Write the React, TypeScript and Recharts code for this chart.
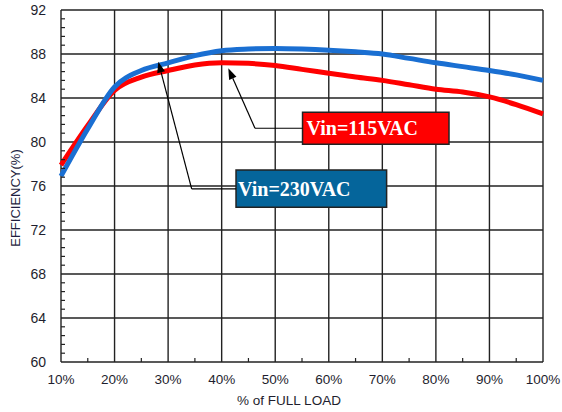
import React from 'react';
import { LineChart, Line, XAxis, YAxis, CartesianGrid, ReferenceArea, ReferenceLine } from 'recharts';

const loads = [10, 15, 20, 25, 30, 35, 40, 45, 50, 55, 60, 65, 70, 75, 80, 85, 90, 95, 100];
const eff230 = [76.9, 81.2, 85.0, 86.5, 87.2, 87.85, 88.3, 88.45, 88.5, 88.45, 88.35, 88.2, 88.0, 87.6, 87.2, 86.85, 86.5, 86.1, 85.6];
const eff115 = [77.9, 81.5, 84.7, 85.9, 86.5, 87.0, 87.2, 87.15, 86.95, 86.6, 86.25, 85.9, 85.6, 85.2, 84.8, 84.55, 84.1, 83.4, 82.55];

const xTicks = [10, 20, 30, 40, 50, 60, 70, 80, 90, 100];
const xMinorTicks = [15, 25, 35, 45, 55, 65, 75, 85, 95];
const yTicks = [60, 64, 68, 72, 76, 80, 84, 88, 92];
const yMinorTicks = yTicks.slice(0, -1).flatMap((m) => [m + 0.8, m + 1.6, m + 2.4, m + 3.2]);
const xAllTicks = [...xTicks, ...xMinorTicks].sort((a, b) => a - b);
const yAllTicks = [...yTicks, ...yMinorTicks].sort((a, b) => a - b);

const label115 = 'Vin=115VAC';
const label230 = 'Vin=230VAC';
const box115 = { x1: 55.1, x2: 82.45, y1: 79.79, y2: 82.7 };
const box230 = { x1: 42.68, x2: 70.8, y1: 74.06, y2: 77.45 };
const leader115 = [{ x: 55.1, y: 81.25 }, { x: 46.22, y: 81.25 }];
const arrow115 = [{ x: 46.22, y: 81.25 }, { x: 41.24, y: 86.7 }];
const leader230 = [{ x: 42.68, y: 75.73 }, { x: 34.4, y: 75.73 }];
const arrow230 = [{ x: 34.4, y: 75.73 }, { x: 28.17, y: 87.3 }];

const data = loads.map((l, i) => ({ load: l, v230: eff230[i], v115: eff115[i] }));

const sans = 'Liberation Sans, Arial, sans-serif';
const serif = 'Liberation Serif, Times New Roman, serif';
const textColor = '#1e1e2e';
const X_MARGIN = 12;
const Y_MARGIN = 15;
const MINOR_LEN = 4;

const isMajor = (v: number, list: number[]) => list.some((t) => Math.abs(t - v) < 1e-6);

const XTick = (props: any) => {
  const { x, y, payload } = props;
  const v = payload.value;
  if (!isMajor(v, xTicks)) {
    const base = y - X_MARGIN;
    return <line x1={x} y1={base} x2={x} y2={base - MINOR_LEN} stroke="#222" strokeWidth={1.2} />;
  }
  return (
    <text x={x} y={y} dy="0.71em" textAnchor="middle" fill={textColor} fontSize={13.5} fontFamily={sans}>
      {`${v}%`}
    </text>
  );
};

const YTick = (props: any) => {
  const { x, y, payload } = props;
  const v = payload.value;
  if (!isMajor(v, yTicks)) {
    const base = x + Y_MARGIN;
    return <line x1={base} y1={y} x2={base + MINOR_LEN} y2={y} stroke="#222" strokeWidth={1.2} />;
  }
  return (
    <text x={x} y={y} dy="0.355em" textAnchor="end" fill={textColor} fontSize={14} fontFamily={sans}>
      {`${Math.round(v)}`}
    </text>
  );
};

const ArrowShape = (props: any) => {
  const { x1, y1, x2, y2 } = props;
  const ang = Math.atan2(y2 - y1, x2 - x1);
  const L = 11;
  const W = 4;
  const bx = x2 - L * Math.cos(ang);
  const by = y2 - L * Math.sin(ang);
  const px = -Math.sin(ang) * W;
  const py = Math.cos(ang) * W;
  return (
    <g>
      <line x1={x1} y1={y1} x2={bx} y2={by} stroke="#000" strokeWidth={1.2} />
      <polygon points={`${x2},${y2} ${bx + px},${by + py} ${bx - px},${by - py}`} fill="#000" />
    </g>
  );
};

export default function App() {
  return (
    <div style={{ position: 'absolute', left: 0, top: 0, width: 562, height: 412, background: '#fff' }}>
      <LineChart width={562} height={412} data={data} margin={{ top: 10, right: 19, bottom: 0, left: 0 }}>
        <CartesianGrid stroke="#222" strokeWidth={1.4} horizontalValues={yTicks} verticalValues={xTicks} />
        <XAxis
          dataKey="load"
          type="number"
          domain={[10, 100]}
          ticks={xAllTicks}
          interval={0}
          height={50}
          tickSize={0}
          tickMargin={X_MARGIN}
          axisLine={false}
          tickLine={false}
          tick={<XTick />}
          label={{ value: '% of FULL LOAD', position: 'insideBottom', offset: 7, dx: -13, fill: textColor, fontSize: 13.5, fontFamily: sans }}
        />
        <YAxis
          type="number"
          domain={[60, 92]}
          ticks={yAllTicks}
          interval={0}
          width={61}
          tickSize={0}
          tickMargin={Y_MARGIN}
          axisLine={false}
          tickLine={false}
          tick={<YTick />}
          label={{ value: 'EFFICIENCY(%)', angle: -90, position: 'center', dx: -15.5, dy: 12, fill: '#1e1e3e', fontSize: 13, fontFamily: sans }}
        />
        <Line type="monotone" dataKey="v115" stroke="#ff0000" strokeWidth={5} dot={false} isAnimationActive={false} />
        <Line type="monotone" dataKey="v230" stroke="#1a6fd2" strokeWidth={5} dot={false} isAnimationActive={false} />
        <ReferenceLine segment={leader115} stroke="#000" strokeWidth={1.2} ifOverflow="visible" />
        <ReferenceLine segment={arrow115} shape={ArrowShape} ifOverflow="visible" />
        <ReferenceLine segment={leader230} stroke="#000" strokeWidth={1.2} ifOverflow="visible" />
        <ReferenceLine segment={arrow230} shape={ArrowShape} ifOverflow="visible" />
        <ReferenceArea
          {...box115}
          fill="#ff0000"
          fillOpacity={1}
          stroke="#222"
          strokeWidth={1.5}
          ifOverflow="visible"
          label={{ value: label115, position: 'insideLeft', offset: 4, fill: '#fff', fontSize: 20, fontWeight: 'bold', fontFamily: serif }}
        />
        <ReferenceArea
          {...box230}
          fill="#05659b"
          fillOpacity={1}
          stroke="#222"
          strokeWidth={1.5}
          ifOverflow="visible"
          label={{ value: label230, position: 'insideLeft', offset: 2, fill: '#fff', fontSize: 20, fontWeight: 'bold', fontFamily: serif }}
        />
      </LineChart>
    </div>
  );
}
